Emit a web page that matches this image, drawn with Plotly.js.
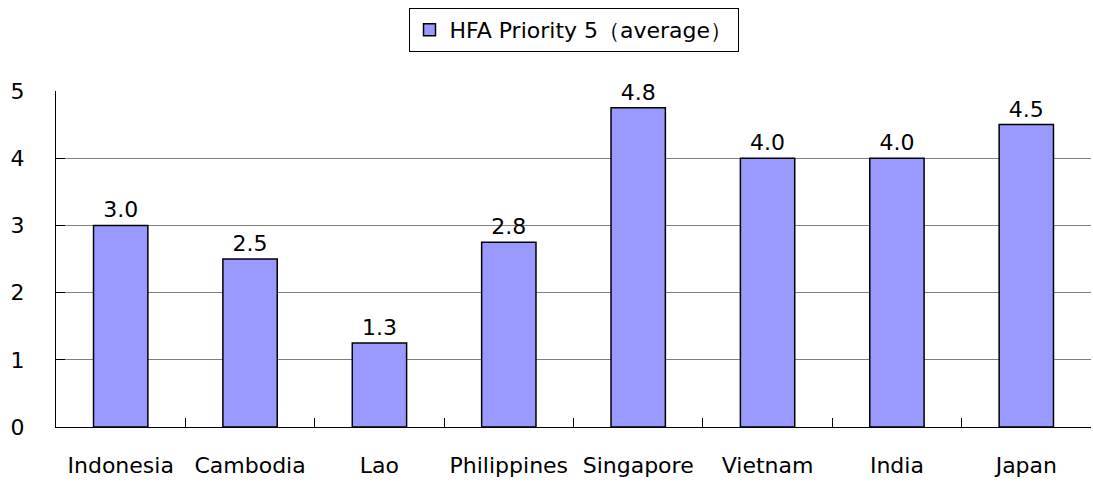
<!DOCTYPE html>
<html>
<head>
<meta charset="utf-8">
<script src="https://cdn.plot.ly/plotly-3.0.1.min.js"></script>
<style>html,body{margin:0;padding:0;background:#fff;}#chart{width:1093px;height:482px;}</style>
</head>
<body>
<div id="chart"></div>
<script>
const categories = ["Indonesia", "Cambodia", "Lao", "Philippines", "Singapore", "Vietnam", "India", "Japan"];
const values = [3.0, 2.5, 1.25, 2.75, 4.75, 4.0, 4.0, 4.5];
const seriesName = "HFA Priority 5（average）";
const yTicks = [0, 1, 2, 3, 4, 5];

const FONT = "DejaVu Sans, sans-serif";

const trace = {
  type: "bar",
  x: categories,
  y: values,
  name: seriesName,
  marker: { color: "#9999FF", line: { color: "#000000", width: 1.5 } },
  width: 0.42,
  texttemplate: "%{y:.1f}",
  textposition: "outside",
  cliponaxis: false,
  textfont: { family: FONT, size: 22, color: "#000" },
  showlegend: true,
  hoverinfo: "skip"
};

const layout = {
  width: 1093,
  height: 482,
  paper_bgcolor: "#fff",
  plot_bgcolor: "#fff",
  margin: { l: 56, r: 2, t: 91, b: 55 },
  font: { family: FONT, size: 22, color: "#000" },
  showlegend: true,
  legend: {
    orientation: "h",
    x: 0.5, xanchor: "center",
    y: 1.247, yanchor: "top",
    bordercolor: "#000", borderwidth: 1, bgcolor: "#fff",
    font: { family: FONT, size: 22, color: "#000" }
  },
  xaxis: {
    type: "category",
    showline: true, linecolor: "#000", linewidth: 1,
    ticks: "inside", tickson: "boundaries", ticklen: 9, tickcolor: "#000",
    showgrid: false, zeroline: false,
    ticklabelstandoff: 19,
    tickfont: { family: FONT, size: 22, color: "#000" }
  },
  yaxis: {
    range: [0, 5],
    tickvals: yTicks,
    showline: true, linecolor: "#000", linewidth: 1,
    ticks: "inside", ticklen: 9, tickcolor: "#000",
    showgrid: true, gridcolor: "#808080", gridwidth: 1,
    zeroline: false,
    ticklabelstandoff: 26,
    tickfont: { family: FONT, size: 22, color: "#000" }
  },
  bargap: 0.58
};

Plotly.newPlot("chart", [trace], layout, { staticPlot: true, displayModeBar: false });
</script>
</body>
</html>
